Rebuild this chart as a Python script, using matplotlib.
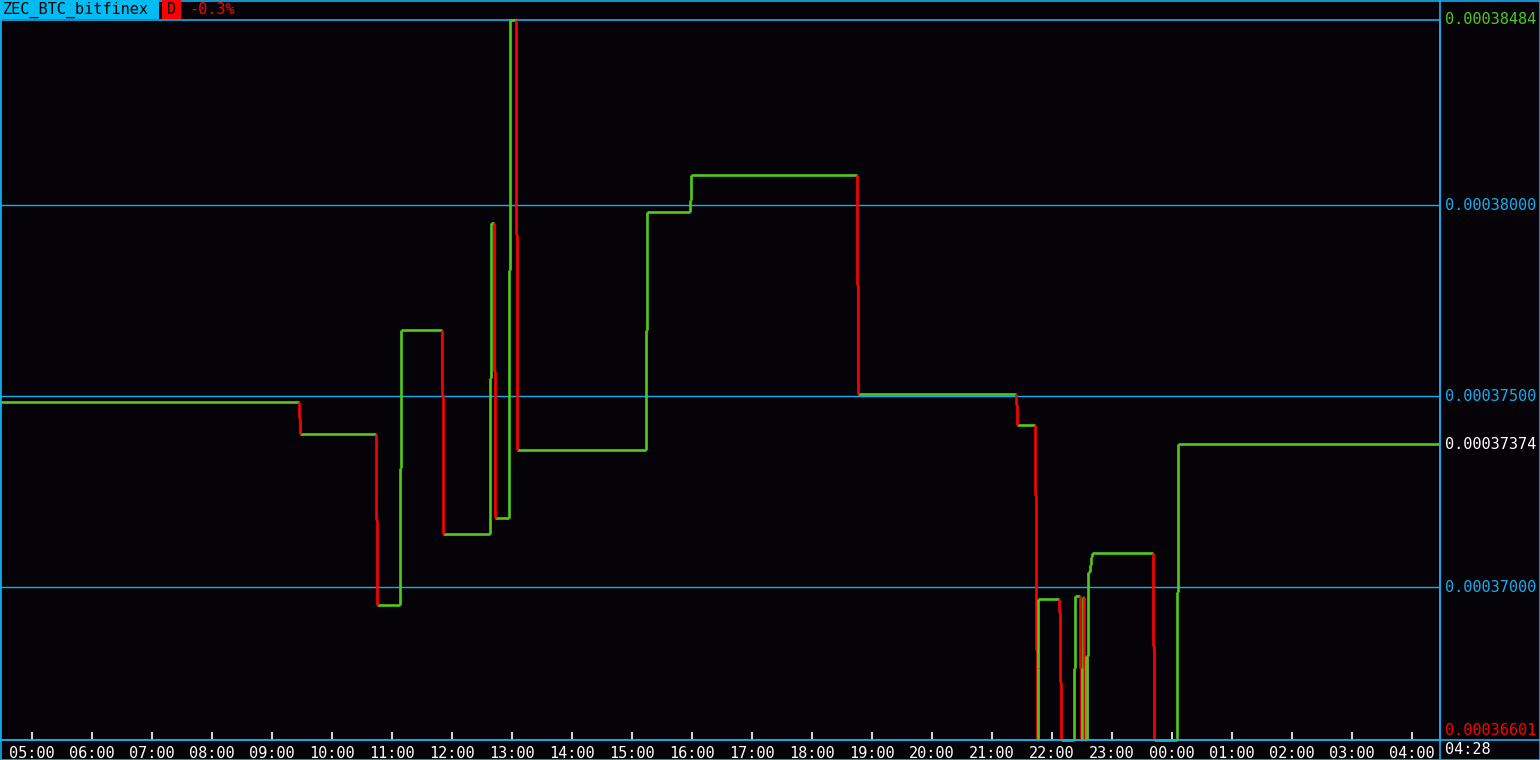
import matplotlib
matplotlib.use("Agg")
import matplotlib.pyplot as plt
from matplotlib.lines import Line2D
from matplotlib.patches import Rectangle

# ---------------- data ----------------
symbol = "ZEC_BTC_bitfinex"
period = "D"
change_text = "-0.3%"
window_start = "04:28"          # left edge of the 24h window
window_minutes = 1440

# minutes since window start at which the price changed
minutes = [0, 299, 300, 376, 377, 400, 401, 442, 443, 490, 491, 494, 495,
           509, 510, 516, 517, 646, 647, 690, 691, 857, 858, 1016, 1017,
           1035, 1036, 1037, 1037.5, 1038, 1059, 1060, 1061, 1074, 1075,
           1080, 1081, 1082, 1083, 1084, 1085, 1086, 1086.7, 1087.3, 1088,
           1089.5, 1090.7, 1092, 1153, 1154, 1177, 1178]
prices = [0.00037485, 0.00037443, 0.00037400, 0.00037176, 0.00036954,
          0.00037312, 0.00037673, 0.00037503, 0.00037140, 0.00037548,
          0.00037953, 0.00037566, 0.00037182, 0.00037830, 0.00038484,
          0.00037922, 0.00037359, 0.00037673, 0.00037982, 0.00038013,
          0.00038079, 0.00037791, 0.00037506, 0.00037477, 0.00037425,
          0.00037242, 0.00036836, 0.00036601, 0.00036789, 0.00036970,
          0.00036936, 0.00036753, 0.00036601, 0.00036789, 0.00036978,
          0.00036789, 0.00036601, 0.00036789, 0.00036975, 0.00036789,
          0.00036601, 0.00036821, 0.00036601, 0.00036821, 0.00037040,
          0.00037059, 0.00037080, 0.00037090, 0.00036847, 0.00036601,
          0.00036988, 0.00037374]

price_max = 0.00038484
price_min = 0.00036601
last_price = 0.00037374
grid_levels = [0.00038000, 0.00037500, 0.00037000]

hour_labels = ["05:00", "06:00", "07:00", "08:00", "09:00", "10:00", "11:00",
               "12:00", "13:00", "14:00", "15:00", "16:00", "17:00", "18:00",
               "19:00", "20:00", "21:00", "22:00", "23:00", "00:00", "01:00",
               "02:00", "03:00", "04:00"]
first_hour_offset = 32          # 05:00 is 32 minutes after 04:28
end_label = "04:28"

# ---------------- style ----------------
BG = "#050307"
BLUE = "#14aef0"
CYAN = "#00bcf2"
GREEN = "#4fcb1c"
RED = "#ff0000"
WHITE = "#ffffff"
FONT = "DejaVu Sans Mono"
FS = 11
LW = 1.9

W, H = 1540, 760
fig = plt.figure(figsize=(W / 100, H / 100), dpi=100, facecolor=BG)

ax = fig.add_axes([0 / W, 20 / H, 1440 / W, 720 / H], facecolor=BG)
ax.set_xlim(0, window_minutes)
ax.set_ylim(price_min, price_max)

for s in ax.spines.values():
    s.set_color(BLUE)
    s.set_linewidth(1.2)

# grid lines
for lv in grid_levels:
    ax.axhline(lv, color=BLUE, lw=1.0, zorder=1)

# step line: horizontal segments green, vertical segments coloured by direction
ends = minutes[1:] + [window_minutes]
ax.hlines(prices, minutes, ends, colors=GREEN, lw=LW, zorder=3, clip_on=False)
vcols = [GREEN if b > a else RED for a, b in zip(prices[:-1], prices[1:])]
ax.vlines(minutes[1:], prices[:-1], prices[1:], colors=vcols, lw=LW,
          zorder=4, clip_on=False)

# x ticks
ax.set_xticks([first_hour_offset + 60 * i for i in range(len(hour_labels))])
ax.set_xticklabels(hour_labels, fontfamily=FONT, fontsize=FS, color=WHITE)
ax.tick_params(axis="x", direction="in", length=6, width=1.2, color=WHITE,
               pad=4, labelcolor=WHITE)
ax.set_yticks([])

# right price labels
def right_label(val, color, dy=0):
    ax.annotate(f"{val:.8f}", xy=(1.0, val), xycoords=("axes fraction", "data"),
                xytext=(3.5, dy), textcoords="offset points", ha="left",
                va="center", color=color, fontfamily=FONT, fontsize=FS,
                annotation_clip=False)

right_label(price_max, GREEN)
for lv in grid_levels:
    right_label(lv, BLUE)
right_label(last_price, WHITE)
right_label(price_min, RED, dy=7)

# end time label
fig.text(1445 / W, 1 - 750 / H, end_label, color=WHITE, fontfamily=FONT,
         fontsize=FS, ha="left", va="center")

# frame lines (full-width bottom axis line, right divider, outer border)
fig.add_artist(Line2D([0, 1], [20 / H, 20 / H], color=BLUE, lw=1.2,
                      transform=fig.transFigure))
fig.add_artist(Line2D([1440 / W, 1440 / W], [0, 1], color=BLUE, lw=1.2,
                      transform=fig.transFigure))
fig.add_artist(Rectangle((0.5 / W, 0.5 / H), (W - 1) / W, (H - 1) / H,
                         fill=False, ec=BLUE, lw=1.2,
                         transform=fig.transFigure))

# header
fig.add_artist(Rectangle((0, 1 - 19 / H), 159 / W, 19 / H, fc=CYAN, ec="none",
                         transform=fig.transFigure, zorder=5))
fig.text(3 / W, 1 - 9.5 / H, symbol, color="black", fontfamily=FONT,
         fontsize=FS, ha="left", va="center", zorder=6)
fig.add_artist(Rectangle((162 / W, 1 - 19 / H), 19 / W, 19 / H, fc=RED,
                         ec="none", transform=fig.transFigure, zorder=5))
fig.text(171.5 / W, 1 - 9.5 / H, period, color="black", fontfamily=FONT,
         fontsize=FS, ha="center", va="center", zorder=6)
fig.text(189 / W, 1 - 9.5 / H, change_text, color=RED, fontfamily=FONT,
         fontsize=FS, ha="left", va="center", zorder=6)

fig.savefig("out.png", dpi=100, facecolor=BG)
